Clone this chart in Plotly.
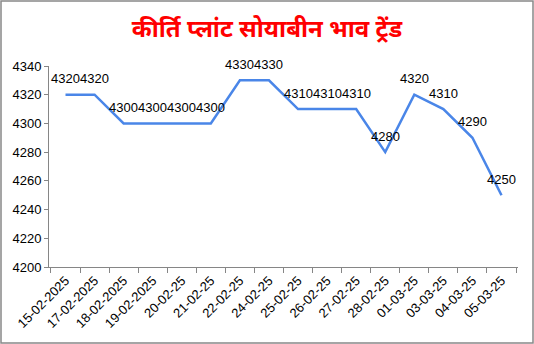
import plotly.graph_objects as go

categories = ["15-02-2025", "17-02-2025", "18-02-2025", "19-02-2025", "20-02-25",
              "21-02-25", "22-02-25", "24-02-25", "25-02-25", "26-02-25", "27-02-25",
              "28-02-25", "01-03-25", "03-03-25", "04-03-25", "05-03-25"]
prices = [4320, 4320, 4300, 4300, 4300, 4300, 4330, 4330, 4310, 4310, 4310,
          4280, 4320, 4310, 4290, 4250]
y_ticks = [4200, 4220, 4240, 4260, 4280, 4300, 4320, 4340]
title_text = "कीर्ति प्लांट सोयाबीन भाव ट्रेंड"

W, H = 534, 344
ml, mr, mt, mb = 49, 16, 66, 77
pw, ph = W - ml - mr, H - mt - mb

fig = go.Figure()
fig.add_trace(go.Scatter(
    x=categories, y=prices, mode="lines",
    line=dict(color="#4A86E8", width=2.5),
    cliponaxis=False, showlegend=False,
))

for c, v in zip(categories, prices):
    fig.add_annotation(x=c, y=v, text=str(v), showarrow=False,
                       xanchor="center", yanchor="middle", yshift=16,
                       font=dict(family="Liberation Sans, Arial", size=13, color="#000000"))

fig.update_layout(
    width=W, height=H,
    margin=dict(l=ml, r=mr, t=mt, b=mb),
    paper_bgcolor="white", plot_bgcolor="white",
    font=dict(family="Liberation Sans, Arial", size=13, color="#000000"),
    title=dict(text="<b>" + title_text + "</b>", x=0.5, xanchor="center",
               y=1 - 29 / H, yanchor="middle",
               font=dict(family="Noto Sans, Noto Sans Devanagari, Lohit Devanagari, sans-serif",
                         size=24, color="#FF0000")),
    xaxis=dict(type="category", showgrid=False, showline=True, linecolor="#868686",
               linewidth=1, ticks="outside", tickson="boundaries", ticklen=5,
               tickcolor="#868686", tickangle=-45,
               tickfont=dict(size=13, color="#000000")),
    yaxis=dict(range=[4200, 4340], tickvals=y_ticks, showgrid=False, showline=True,
               linecolor="#868686", linewidth=1, ticks="outside", ticklen=4,
               tickcolor="#868686", zeroline=False,
               tickfont=dict(size=13, color="#000000")),
)

fig.add_shape(type="rect", xref="paper", yref="paper",
              x0=(1 - ml) / pw, x1=(W - 1 - ml) / pw,
              y0=(H - mb - (H - 1)) / ph, y1=(H - mb - 1) / ph,
              line=dict(color="#888888", width=1.5), fillcolor="rgba(0,0,0,0)")

fig.write_html("out.html")
